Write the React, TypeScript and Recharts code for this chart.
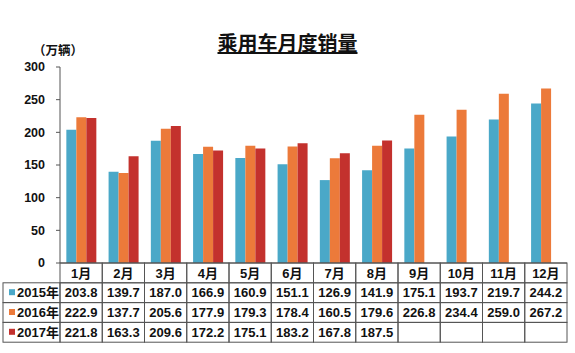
import React from 'react';
import { BarChart, Bar, XAxis, YAxis } from 'recharts';

const months = ['1月', '2月', '3月', '4月', '5月', '6月', '7月', '8月', '9月', '10月', '11月', '12月'];
const sales2015 = [203.8, 139.7, 187.0, 166.9, 160.9, 151.1, 126.9, 141.9, 175.1, 193.7, 219.7, 244.2];
const sales2016 = [222.9, 137.7, 205.6, 177.9, 179.3, 178.4, 160.5, 179.6, 226.8, 234.4, 259.0, 267.2];
const sales2017: (number | null)[] = [221.8, 163.3, 209.6, 172.2, 175.1, 183.2, 167.8, 187.5, null, null, null, null];
const yTicks = [0, 50, 100, 150, 200, 250, 300];
const seriesNames = ['2015年', '2016年', '2017年'];
const seriesKeys = ['s2015', 's2016', 's2017'];
const seriesValues = [sales2015, sales2016, sales2017];
const colors = ['#4AA8C8', '#EC7A3A', '#C3312D'];
const title = '乘用车月度销量';
const unitLabel = '（万辆）';

const data = months.map((m, i) => ({
  month: m,
  s2015: sales2015[i],
  s2016: sales2016[i],
  s2017: sales2017[i],
}));

const W = 575;
const H = 353;
const M = { top: 67, right: 8, bottom: 10, left: 3 };
const Y_AXIS_W = 57;
const X_AXIS_H = 80;
const ROW_H = 19.8;
const HEADER_X = 3;
const FONT = "'Liberation Sans', Arial, 'Noto Sans CJK SC', sans-serif";
const GRID = '#555';

const fmt = (v: number | null | undefined) => (v == null ? '' : v.toFixed(1));

function TableTick(props: any) {
  const { x, y, payload, index } = props;
  const colW = (W - M.left - Y_AXIS_W - M.right) / months.length;
  const left = x - colW / 2;
  const cells = [payload.value, ...seriesValues.map((s) => fmt(s[index]))];
  return (
    <g>
      {cells.map((t, r) => (
        <g key={r}>
          <rect x={left} y={y + r * ROW_H} width={colW} height={ROW_H} fill="none" stroke={GRID} strokeWidth={1} />
          {t ? (
            <text
              x={x}
              y={y + r * ROW_H + ROW_H / 2}
              dy="0.36em"
              textAnchor="middle"
              fontSize={13}
              fontWeight="bold"
              fill="#111"
              fontFamily={FONT}
            >
              {t}
            </text>
          ) : null}
        </g>
      ))}
      {index === 0
        ? seriesNames.map((name, r) => (
            <g key={'h' + r}>
              <rect
                x={HEADER_X}
                y={y + (r + 1) * ROW_H}
                width={left - HEADER_X}
                height={ROW_H}
                fill="none"
                stroke={GRID}
                strokeWidth={1}
              />
              <rect x={HEADER_X + 6} y={y + (r + 1) * ROW_H + ROW_H / 2 - 3.5} width={6} height={6} fill={colors[r]} />
              <text
                x={HEADER_X + 14}
                y={y + (r + 1) * ROW_H + ROW_H / 2}
                dy="0.36em"
                textAnchor="start"
                fontSize={13}
                fontWeight="bold"
                fill="#111"
                fontFamily={FONT}
              >
                {name}
              </text>
            </g>
          ))
        : null}
    </g>
  );
}

export default function App() {
  return (
    <div style={{ position: 'absolute', left: 0, top: 0, width: W, height: H, background: '#fff', fontFamily: FONT }}>
      <div
        style={{
          position: 'absolute',
          left: 0,
          width: W,
          top: 32,
          textAlign: 'center',
          fontSize: 20,
          fontWeight: 'bold',
          color: '#111',
          textDecoration: 'underline',
          lineHeight: '24px',
        }}
      >
        {title}
      </div>
      <div
        style={{
          position: 'absolute',
          left: 33,
          top: 43,
          fontSize: 12.5,
          fontWeight: 'bold',
          color: '#111',
          lineHeight: '16px',
        }}
      >
        {unitLabel}
      </div>
      <BarChart width={W} height={H} data={data} margin={M} barCategoryGap="15%" barGap={0}>
        <YAxis
          width={Y_AXIS_W}
          domain={[0, 300]}
          ticks={yTicks}
          interval={0}
          tickSize={4}
          tickMargin={11}
          axisLine={{ stroke: GRID }}
          tickLine={{ stroke: GRID }}
          tick={{ fontSize: 12.5, fontWeight: 'bold', fill: '#111', fontFamily: FONT }}
        />
        <XAxis
          dataKey="month"
          height={X_AXIS_H}
          interval={0}
          tickSize={0}
          tickMargin={0}
          tickLine={false}
          axisLine={{ stroke: GRID }}
          tick={<TableTick />}
        />
        {seriesKeys.map((k, i) => (
          <Bar key={k} dataKey={k} name={seriesNames[i]} fill={colors[i]} isAnimationActive={false} />
        ))}
      </BarChart>
    </div>
  );
}
